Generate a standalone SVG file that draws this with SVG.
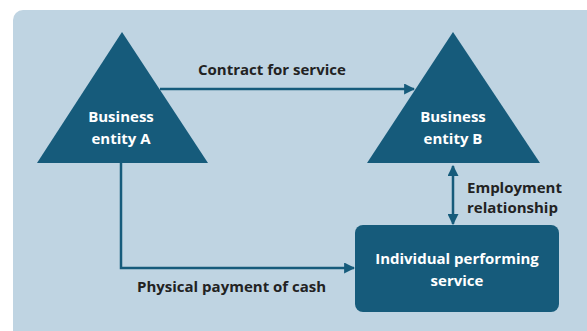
<svg xmlns="http://www.w3.org/2000/svg" width="587" height="331" viewBox="0 0 587 331">
<defs>
<style>
.bg{fill:#bfd4e2}
.shape{fill:#165b7b}
.conn{stroke:#165b7b;stroke-width:2.5;fill:none}
.lbl{font-family:"Open Sans","Liberation Sans",sans-serif;font-weight:bold;font-size:15px;fill:#222}
.wt{font-family:"Open Sans","Liberation Sans",sans-serif;font-weight:bold;font-size:15px;fill:#fff;text-anchor:middle}
</style>
<marker id="ah" viewBox="0 0 10 10" refX="9" refY="5" markerWidth="4.4" markerHeight="4.4" orient="auto-start-reverse" markerUnits="strokeWidth">
<path d="M0,0 L10,5 L0,10 z" fill="#165b7b"/>
</marker>
</defs>
<rect width="587" height="331" fill="#fff"/>
<rect class="bg" x="13" y="10" width="600" height="340" rx="10"/>
<g id="connectors">
<line class="conn" x1="160" y1="89" x2="414" y2="89" marker-end="url(#ah)"/>
<polyline class="conn" points="121,163 121,268 354,268" marker-end="url(#ah)"/>
<line class="conn" x1="453" y1="166" x2="453" y2="224" marker-start="url(#ah)" marker-end="url(#ah)"/>
<text class="lbl" x="198" y="75">Contract for service</text>
<text class="lbl" x="137" y="292">Physical payment of cash</text>
<text class="lbl" x="467" y="193">Employment</text>
<text class="lbl" x="467" y="213">relationship</text>
</g>
<g id="entityA">
<polygon class="shape" points="122,32 208,163 37,163"/>
<text class="wt" x="121" y="122">Business</text>
<text class="wt" x="121" y="144">entity A</text>
</g>
<g id="entityB">
<polygon class="shape" points="453,32 540,163 367,163"/>
<text class="wt" x="453" y="122">Business</text>
<text class="wt" x="453" y="144">entity B</text>
</g>
<g id="individual">
<rect class="shape" x="355" y="225" width="204" height="87" rx="8"/>
<text class="wt" x="457" y="264">Individual performing</text>
<text class="wt" x="457" y="286">service</text>
</g>
</svg>
